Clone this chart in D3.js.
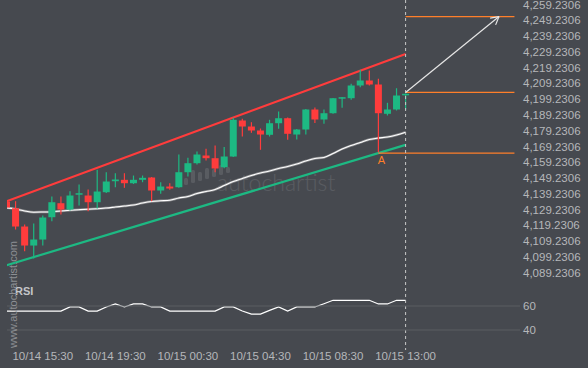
<!DOCTYPE html>
<html><head><meta charset="utf-8">
<script src="https://cdn.jsdelivr.net/npm/d3@7"></script>
<style>html,body{margin:0;padding:0;background:#46494f;overflow:hidden}</style>
</head><body><svg id="c" width="588" height="368"></svg>
<script>
// ---- data (30-minute bars) ----
const opens  = [4134.4,4130.15,4118.55,4106.5,4110.3,4124.45,4133.32,4129.33,4138.83,4138.2,4133.95,4140.29,4147.26,4148.15,4145.99,4148.15,4149.61,4141.37,4143.9,4143.46,4152.96,4158.67,4163.55,4161.84,4156.13,4162.91,4185.73,4181.92,4179.39,4176.66,4184.01,4187.18,4176.85,4180.02,4192.7,4186.36,4190.35,4199.86,4199.86,4207.91,4211.07,4208.54,4189.97,4192.7,4201.89];
const highs  = [4135.0,4134.59,4119.82,4120.45,4125.5,4137.56,4137.56,4140.92,4145.17,4142.0,4154.48,4152.96,4152.33,4152.33,4150.87,4150.87,4149.92,4146.63,4145.99,4164.18,4162.09,4166.08,4167.79,4169.88,4168.93,4187.44,4186.8,4184.65,4180.66,4186.17,4191.43,4187.63,4180.34,4193.01,4193.96,4192.7,4199.98,4200.62,4208.98,4217.85,4217.41,4212.15,4196.94,4206.19,4202.84];
const lows   = [4130.0,4116.65,4102.9,4098.28,4106.5,4121.91,4126.16,4128.69,4131.86,4128.25,4129.96,4139.78,4143.46,4143.08,4145.49,4146.63,4134.59,4139.28,4141.81,4143.08,4150.24,4157.84,4160.38,4152.96,4155.5,4162.6,4175.59,4177.93,4167.16,4175.59,4180.47,4173.5,4173.69,4176.85,4184.14,4183.63,4189.97,4193.77,4198.84,4206.83,4207.91,4165.64,4188.89,4192.06,4192.7];
const closes = [4130.6,4118.55,4106.51,4110.32,4124.26,4133.95,4129.33,4138.2,4139.66,4133.95,4140.73,4147.07,4148.34,4145.99,4148.15,4149.41,4141.37,4143.9,4142.63,4152.96,4158.67,4164.18,4161.84,4155.31,4162.91,4186.17,4181.92,4179.39,4176.85,4184.01,4187.18,4177.3,4180.02,4192.7,4186.36,4190.35,4199.86,4200.49,4207.91,4211.07,4208.54,4190.35,4192.7,4201.57,4202.65];
const maValues = [4130.4,4129.64,4128.38,4127.62,4127.74,4127.93,4128.38,4128.82,4129.2,4129.52,4129.77,4130.28,4130.91,4131.54,4132.18,4133.45,4134.4,4134.84,4135.22,4136.61,4137.56,4139.47,4140.73,4142.0,4144.54,4147.07,4148.97,4150.87,4152.46,4153.72,4155.31,4156.58,4158.16,4160.06,4161.65,4162.28,4164.81,4167.67,4169.88,4171.78,4173.69,4174.64,4175.27,4176.54,4178.31];
const rsiValues = [55.8,55.8,55.8,55.8,55.8,55.8,55.8,59.2,59.2,55.8,55.8,59.2,61.7,59.2,61.7,61.7,59.2,59.2,55.8,55.8,55.8,55.8,55.8,55.8,59.2,59.2,55.8,53.3,53.3,56.4,59.2,55.8,59.2,59.2,59.2,61.9,64.75,64.75,64.75,64.75,64.75,61.7,61.7,64.75,64.75];
const priceTicks = [4259.2306,4249.2306,4239.2306,4229.2306,4219.2306,4209.2306,4199.2306,4189.2306,4179.2306,4169.2306,4159.2306,4149.2306,4139.2306,4129.2306,4119.2306,4109.2306,4099.2306,4089.2306];
const rsiTicks = [60, 40];
const timeLabels = ["10/14 15:30","10/14 19:30","10/15 00:30","10/15 04:30","10/15 08:30","10/15 13:00"];
const timeLabelIdx = [4,12,20,28,36,44];
const channelIdx = [0, 44];
const resistance = [4134.5, 4227.9];
const support = [4094.0, 4170.3];
const targetLevel = 4251.6, entryLevel = 4203.5, supportLevel = 4165.0;
const pointAIdx = 41;
const arrowEnd = [54.3, 4251.6];
const levelEndIdx = 56;

// ---- scales ----
const x = d3.scaleLinear().domain([0, 44]).range([6.5, 405.6]);
const y = d3.scaleLinear().domain([4259.2306, 4089.2306]).range([4.5, 272.8]);
const yr = d3.scaleLinear().domain([60, 40]).range([306, 330]);

const RED = "#ff3c3c", GREEN = "#1db983", ORANGE = "#ff7f2a", TXT = "#b5b7ba";
const svg = d3.select("#c");
svg.append("rect").attr("width",588).attr("height",368).attr("fill","#46494f");
const defs = svg.append("defs");
defs.append("clipPath").attr("id","plot").append("rect").attr("x",7).attr("y",0).attr("width",600).attr("height",368);
const g = svg.append("g").attr("clip-path","url(#plot)");

// watermark
const wm = g.append("g").attr("opacity",0.1);
const logoH = [7, 13, 9, 11, 8, 10, 6];
logoH.forEach((h,i)=>{
  wm.append("rect").attr("x",184 + i*7).attr("y",185 - h - i*2).attr("width",4).attr("height",h).attr("rx",1.5).attr("fill","#fff");
});
wm.append("text").attr("x",217).attr("y",191).attr("font-family","Lato, 'Open Sans', sans-serif").attr("font-size",23).attr("font-weight",300).attr("fill","#fff").text("autochartist");

// channel
const chLine = d3.line().x(d=>x(d[0])).y(d=>y(d[1]));
g.append("path").attr("d",chLine(channelIdx.map((c,i)=>[c,resistance[i]]))).attr("stroke",RED).attr("stroke-width",2.2).attr("fill","none");
g.append("path").attr("d",chLine(channelIdx.map((c,i)=>[c,support[i]]))).attr("stroke",GREEN).attr("stroke-width",2.2).attr("fill","none");

// moving average
const maLine = d3.line().x((d,i)=>x(i)).y(d=>y(d)).curve(d3.curveMonotoneX);
g.append("path").attr("d",maLine(maValues)).attr("stroke","#8a8b8e").attr("stroke-width",2.4).attr("fill","none");
g.append("path").attr("d",maLine(maValues)).attr("stroke","#ffffff").attr("stroke-width",1.1).attr("fill","none");

// candles
const bw = 7;
opens.forEach((o,i)=>{
  const c = closes[i], up = c >= o, col = up ? GREEN : RED;
  g.append("line").attr("x1",x(i)).attr("x2",x(i)).attr("y1",y(highs[i])).attr("y2",y(lows[i])).attr("stroke",col).attr("stroke-width",1.2);
  const top = y(Math.max(o,c)), bot = y(Math.min(o,c));
  g.append("rect").attr("x",x(i)-bw/2).attr("y",top).attr("width",bw).attr("height",Math.max(1.5,bot-top)).attr("fill",col);
});

// levels
svg.append("line").attr("x1",x(44)).attr("x2",x(levelEndIdx)).attr("y1",y(targetLevel)).attr("y2",y(targetLevel)).attr("stroke",ORANGE).attr("stroke-width",1.2);
svg.append("line").attr("x1",x(44)).attr("x2",x(levelEndIdx)).attr("y1",y(entryLevel)).attr("y2",y(entryLevel)).attr("stroke",ORANGE).attr("stroke-width",1.2);
svg.append("line").attr("x1",x(pointAIdx)).attr("x2",x(levelEndIdx)).attr("y1",y(supportLevel)).attr("y2",y(supportLevel)).attr("stroke",ORANGE).attr("stroke-width",1.2);
svg.append("text").attr("x",x(pointAIdx)+3).attr("y",y(supportLevel)+11).attr("fill",ORANGE).attr("font-family","'Liberation Sans', Arial, sans-serif").attr("font-size",11).attr("text-anchor","middle").text("A");

// vertical dashed line
svg.append("line").attr("x1",x(44)).attr("x2",x(44)).attr("y1",0).attr("y2",350).attr("stroke","#c8c8c8").attr("stroke-width",1).attr("stroke-dasharray","3,3");

// arrow
const ax0 = x(44), ay0 = y(entryLevel), ax1 = x(arrowEnd[0]), ay1 = y(arrowEnd[1]);
svg.append("line").attr("x1",ax0).attr("y1",ay0).attr("x2",ax1).attr("y2",ay1).attr("stroke","#e6e6e6").attr("stroke-width",1.2);
const ang = Math.atan2(ay1-ay0, ax1-ax0), hl = 9, spread = 0.5;
[ang+Math.PI-spread, ang+Math.PI+spread].forEach(a=>{
  svg.append("line").attr("x1",ax1).attr("y1",ay1).attr("x2",ax1+hl*Math.cos(a)).attr("y2",ay1+hl*Math.sin(a)).attr("stroke","#e6e6e6").attr("stroke-width",1.2);
});

// price axis labels
svg.append("g").selectAll("text").data(priceTicks).join("text")
  .attr("x",523).attr("y",d=>y(d)).attr("dy","0.35em")
  .attr("fill",TXT).attr("font-family","'Liberation Sans', Arial, sans-serif").attr("font-size",11.5)
  .text(d=>d3.format(",.4f")(d));

// RSI panel
svg.append("g").selectAll("line").data(rsiTicks).join("line")
  .attr("x1",7).attr("x2",520).attr("y1",d=>yr(d)).attr("y2",d=>yr(d)).attr("stroke","#5b5e63").attr("stroke-width",1);
svg.append("g").selectAll("text").data(rsiTicks).join("text")
  .attr("x",523).attr("y",d=>yr(d)).attr("dy","0.35em")
  .attr("fill",TXT).attr("font-family","'Liberation Sans', Arial, sans-serif").attr("font-size",11.5).text(d=>d);
const rsiLine = d3.line().x((d,i)=>x(i)).y(d=>yr(d));
g.append("path").attr("d",rsiLine(rsiValues)).attr("stroke","#ffffff").attr("stroke-width",1.2).attr("fill","none");
svg.append("text").attr("x",15).attr("y",295).attr("fill","#c4c6c9").attr("font-family","'Liberation Sans', Arial, sans-serif").attr("font-size",11).attr("font-weight","bold").text("RSI");

// time labels
svg.append("g").selectAll("text").data(timeLabels).join("text")
  .attr("x",(d,i)=>x(timeLabelIdx[i])).attr("y",360).attr("text-anchor","middle")
  .attr("fill",TXT).attr("font-family","'Liberation Sans', Arial, sans-serif").attr("font-size",11.5).text(d=>d);

// vertical site watermark
svg.append("text").attr("transform","translate(17,348) rotate(-90)").attr("fill","#8d8f93")
  .attr("font-family","'Liberation Sans', Arial, sans-serif").attr("font-size",11).text("www.autochartist.com");
</script></body></html>
